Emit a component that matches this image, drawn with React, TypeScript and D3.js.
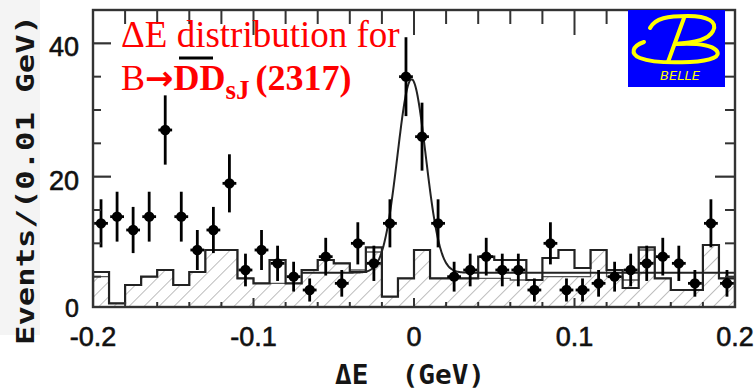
import React from 'react';
import * as d3 from 'd3';

// ---- data ----
const binLow = [
  -0.2, -0.19, -0.18, -0.17, -0.16, -0.15, -0.14, -0.13, -0.12, -0.11,
  -0.1, -0.09, -0.08, -0.07, -0.06, -0.05, -0.04, -0.03, -0.02, -0.01,
  0.0, 0.01, 0.02, 0.03, 0.04, 0.05, 0.06, 0.07, 0.08, 0.09,
  0.1, 0.11, 0.12, 0.13, 0.14, 0.15, 0.16, 0.17, 0.18, 0.19,
];
const BIN_W = 0.01;
const dataCounts = [
  13, 14, 12, 14, 27, 14, 9, 12, 19, 6,
  9, 7, 5, 3, 8, 4, 10, 7, 13, 35,
  26, 13, 5, 6, 8, 6, 6, 3, 10, 3,
  3, 4, 5, 6, 7, 8, 7, 4, 13, 4,
];
const hatchedHist = [
  5.0, 1.0, 3.75, 5.0, 6.0, 3.75, 5.7, 9.0, 9.0, 4.75,
  4.0, 4.0, 4.0, 6.0, 7.5, 7.0, 6.0, 8.7, 2.0, 4.75,
  9.0, 4.75, 4.75, 4.75, 4.75, 4.75, 4.5, 4.5, 5.0, 5.0,
  5.0, 9.0, 5.0, 4.5, 9.0, 4.75, 3.0, 3.0, 9.75, 4.75,
];
const openHist = [
  5.7, 1.0, 3.75, 5.0, 6.0, 3.75, 5.7, 9.0, 9.0, 4.75,
  4.0, 7.5, 4.0, 6.0, 7.5, 7.0, 5.7, 9.4, 2.0, 4.75,
  9.0, 4.75, 4.75, 4.75, 8.0, 7.5, 7.5, 4.5, 7.8, 9.0,
  6.3, 9.0, 6.0, 3.3, 9.4, 4.75, 3.0, 3.0, 9.75, 4.75,
];
const xMajorTicks = [-0.2, -0.1, 0, 0.1, 0.2];
const xTickLabels = ['-0.2', '-0.1', '0', '0.1', '0.2'];
const yMajorTicks = [20, 40];
const yMinorTicks = [5, 10, 15, 25, 30, 35];
const yTickLabels = ['0', '20', '40'];
const yLabelValues = [0, 20, 40];

// fit: gaussian + flat background
const FIT_PEAK = 29;
const FIT_MEAN = -0.0015;
const FIT_SIGMA = 0.0088;
const FIT_BKG = 5.6;
const FIT_FROM = -0.07;
const FIT_TO = 0.2;

const W = 756;
const H = 390;

export default function App() {
  const x = d3.scaleLinear().domain([-0.2, 0.2]).range([93, 735]);
  const y = d3.scaleLinear().domain([0.45, 45]).range([307, 10]);
  const [x0, x1] = x.range();
  const [yb, yt] = y.range();

  const histPath = (vals: number[], close: boolean) => {
    let p = `M${x(binLow[0])},${yb}`;
    vals.forEach((v, i) => {
      p += `V${y(v)}H${x(binLow[i] + BIN_W)}`;
    });
    p += `V${yb}`;
    if (close) p += 'Z';
    return p;
  };

  const fitFn = (e: number) =>
    FIT_BKG + FIT_PEAK * Math.exp(-((e - FIT_MEAN) ** 2) / (2 * FIT_SIGMA * FIT_SIGMA));
  const fitXs = d3.range(FIT_FROM, FIT_TO + 1e-9, 0.0005);
  const fitLine = d3
    .line<number>()
    .x((e) => x(e))
    .y((e) => y(fitFn(e)))
    .curve(d3.curveMonotoneX);

  const minorX = x.ticks(20);
  const ink = '#222';
  const sans = 'Liberation Sans, Arial, sans-serif';
  const mono = 'DejaVu Sans Mono, monospace';

  return (
    <svg
      width={W}
      height={H}
      viewBox={`0 0 ${W} ${H}`}
      style={{ position: 'absolute', left: 0, top: 0, background: '#fff' }}
    >
      <defs>
        <pattern
          id="hatch"
          patternUnits="userSpaceOnUse"
          width="10.6"
          height="10.6"
          patternTransform="rotate(45)"
        >
          <line x1="0" y1="0" x2="0" y2="10.6" stroke="#888" strokeWidth="1.1" />
        </pattern>
        <clipPath id="plotClip">
          <rect x={x0} y={yt} width={x1 - x0} height={yb - yt} />
        </clipPath>
      </defs>
      <rect x={0} y={0} width={W} height={H} fill="#fff" />
      <rect x={0} y={0} width={40} height={335} fill="#f4f4f4" />

      {/* histograms and fit */}
      <g clipPath="url(#plotClip)">
        <path d={histPath(hatchedHist, true)} fill="url(#hatch)" stroke="none" />
        <path d={histPath(hatchedHist, false)} fill="none" stroke="#555" strokeWidth={1.4} />
        <path d={histPath(openHist, false)} fill="none" stroke={ink} strokeWidth={2.2} />
        <path d={fitLine(fitXs) || ''} fill="none" stroke={ink} strokeWidth={2} />
      </g>

      {/* data points */}
      <g>
        {dataCounts.map((c, i) => {
          const cx = x(binLow[i] + BIN_W / 2);
          const cy = y(c);
          const err = Math.sqrt(c);
          return (
            <g key={i}>
              <line x1={cx} x2={cx} y1={y(c + err)} y2={Math.min(y(c - err), yb)} stroke="#000" strokeWidth={2.8} />
              <line x1={x(binLow[i] + 0.0007)} x2={x(binLow[i] + BIN_W - 0.0007)} y1={cy} y2={cy} stroke="#000" strokeWidth={2.8} />
              <circle cx={cx} cy={cy} r={5.2} fill="#000" />
            </g>
          );
        })}
      </g>

      {/* frame */}
      <rect x={x0} y={yt} width={x1 - x0} height={yb - yt} fill="none" stroke="#333" strokeWidth={2.4} />

      {/* x ticks top and bottom */}
      {minorX.map((t, i) => {
        const major = xMajorTicks.some((m) => Math.abs(m - t) < 1e-9);
        const xx = x(t);
        return (
          <g key={'xt' + i}>
            <line x1={xx} x2={xx} y1={yt} y2={yt + (major ? 25 : 14)} stroke="#333" strokeWidth={2} />
            <line x1={xx} x2={xx} y1={yb} y2={yb - (major ? 9 : 5)} stroke="#333" strokeWidth={2} />
          </g>
        );
      })}
      {/* y ticks left and right */}
      {yMinorTicks.map((t) => (
        <g key={'ym' + t}>
          <line x1={x0} x2={x0 + 8} y1={y(t)} y2={y(t)} stroke="#333" strokeWidth={2} />
          <line x1={x1} x2={x1 - 10} y1={y(t)} y2={y(t)} stroke="#333" strokeWidth={2} />
        </g>
      ))}
      {yMajorTicks.map((t) => (
        <g key={'yM' + t}>
          <line x1={x0} x2={x0 + 18} y1={y(t)} y2={y(t)} stroke="#333" strokeWidth={2.2} />
          <line x1={x1} x2={x1 - 20} y1={y(t)} y2={y(t)} stroke="#333" strokeWidth={2.2} />
        </g>
      ))}

      {/* tick labels */}
      {xMajorTicks.map((t, i) => (
        <text
          key={'xl' + i}
          x={x(t)}
          y={346}
          textAnchor="middle"
          fontFamily={sans}
          fontSize={27}
          fill="#111"
          stroke="#111"
          strokeWidth={0.6}
        >
          {xTickLabels[i]}
        </text>
      ))}
      {yLabelValues.map((v, i) => (
        <text
          key={'yl' + i}
          x={79}
          y={y(v) + (v === 0 ? 7 : 13)}
          textAnchor="end"
          fontFamily={sans}
          fontSize={v === 0 ? 25 : 27}
          fill="#111"
          stroke="#111"
          strokeWidth={0.6}
        >
          {yTickLabels[i]}
        </text>
      ))}

      {/* axis titles */}
      <text
        x={335}
        y={384}
        fontFamily={mono}
        fontWeight="bold"
        fontSize={27}
        fill="#151515"
        textLength={150}
        lengthAdjust="spacingAndGlyphs"
        style={{ whiteSpace: 'pre' }}
      >
        {'ΔE  (GeV)'}
      </text>
      <text
        transform="translate(34,180) rotate(-90)"
        textAnchor="middle"
        fontFamily={mono}
        fontWeight="bold"
        fontSize={25}
        fill="#151515"
        textLength={330}
        lengthAdjust="spacingAndGlyphs"
        style={{ whiteSpace: 'pre' }}
      >
        {'Events/(0.01 GeV)'}
      </text>

      {/* title */}
      <text x={121} y={47} fill="#ff0000" fontFamily="Liberation Serif, Times New Roman, serif" fontSize={37}>
        ΔE distribution for
      </text>
      <text x={121} y={90} fill="#ff0000" fontFamily="Liberation Serif, Times New Roman, serif" fontSize={36}>
        <tspan>B</tspan>
        <tspan fontFamily="DejaVu Sans, sans-serif" fontWeight="bold" fontSize={34}>→</tspan>
        <tspan fontWeight="bold">DD</tspan>
        <tspan fontWeight="bold" fontSize={27} dy={9}>sJ</tspan>
        <tspan fontWeight="bold" dy={-9} dx={6}>(2317)</tspan>
      </text>
      <line x1={179} x2={213} y1={58} y2={58} stroke="#000" strokeWidth={3} />

      {/* BELLE logo */}
      <g>
        <rect x={628} y={10} width={97} height={77} fill="#0000ff" />
        <g fill="none" stroke="#ffff00" strokeWidth={4} strokeLinecap="round">
          <path d="M684,18 L668,62" />
          <path d="M650,28 C655,18 668,16 688,16 C708,16 718,22 713,31 C709,39 695,43 675,44" />
          <path d="M644,42 C632,46 630,54 640,58 C650,62 668,63 690,62 C712,61 722,56 716,50 C710,44 695,43 675,44" />
        </g>
        <text x={680} y={80} textAnchor="middle" fill="#ffff00" fontFamily="DejaVu Sans, sans-serif" fontStyle="italic" fontSize={13}>
          BELLE
        </text>
      </g>
    </svg>
  );
}
